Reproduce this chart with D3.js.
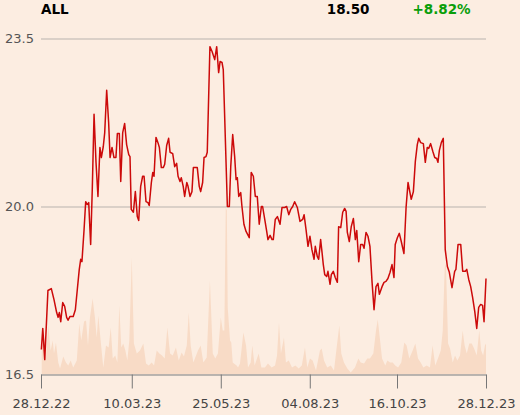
<!DOCTYPE html>
<html><head><meta charset="utf-8">
<script src="https://cdn.jsdelivr.net/npm/d3@7"></script>
<style>html,body{margin:0;padding:0;background:#fcede1;} svg{display:block;}</style>
</head><body>
<svg id="c" width="520" height="415"></svg>
<script>
const ticker = "ALL", lastPrice = "18.50", changePct = "+8.82%";
const yTicks = [16.5, 20.0, 23.5];
const xTickSessions = [0, 51, 101, 151, 200, 250];
const xTickLabels = ["28.12.22", "10.03.23", "25.05.23", "04.08.23", "16.10.23", "28.12.23"];

const priceSession = [0.2,1.0,2.1,3.9,5.8,7.3,8.8,9.6,10.3,11.1,12.2,13.3,14.4,15.2,16.3,18.1,19.3,20.4,21.5,22.3,23.0,24.2,25.1,26.0,26.8,27.9,28.8,29.8,30.9,32.0,33.1,33.9,35.0,35.8,36.9,38.0,38.8,39.9,41.0,42.1,42.9,44.0,44.8,45.9,47.0,48.1,49.3,
50.0,50.7,51.9,53.0,54.1,54.9,56.0,57.1,57.9,59.0,60.1,60.8,62.0,62.8,63.5,64.6,65.7,66.5,67.6,68.7,69.5,70.6,71.7,72.5,74.0,75.1,76.2,77.0,78.1,78.8,79.9,80.7,81.9,82.6,83.7,84.8,85.6,87.1,87.8,88.9,89.7,90.8,91.6,92.7,93.4,94.9,96.1,97.6,98.7,99.8,
100.6,101.7,102.4,104.7,105.8,106.6,107.7,108.8,109.6,110.3,111.1,112.2,112.9,114.0,115.2,117.0,118.1,119.3,120.4,121.5,122.6,123.8,124.5,125.7,126.8,127.5,128.7,129.8,130.5,131.6,132.8,134.3,135.4,136.9,138.0,139.2,140.3,141.4,142.5,144.0,145.5,147.0,147.8,148.9,150.0,
151.1,152.2,153.4,154.1,155.2,156.0,157.1,157.9,158.6,159.4,160.5,161.2,162.4,163.1,164.2,165.3,166.5,167.2,168.4,169.5,170.6,171.4,172.1,173.2,174.3,175.5,176.6,177.4,178.5,179.6,180.7,181.5,182.6,183.7,184.8,186.0,187.1,188.2,189.3,190.1,191.6,192.7,193.8,194.9,196.1,197.2,198.3,199.0,200.2,201.3,
202.4,203.9,205.1,206.2,208.0,209.2,210.3,211.4,212.2,213.3,214.8,215.9,217.0,217.8,218.9,220.1,221.2,222.3,223.0,223.8,224.9,226.0,227.1,228.3,229.4,230.9,232.4,233.1,234.3,235.8,236.9,238.4,239.2,240.3,241.4,242.5,243.7,244.8,245.9,247.0,248.1,248.9,250.0];

const priceValue = [17.02,17.46,16.81,18.25,18.29,18.06,17.79,17.69,17.79,17.60,18.00,17.92,17.69,17.63,17.71,17.71,17.85,18.27,18.69,18.90,18.85,19.52,20.10,20.04,20.08,19.21,20.35,21.92,20.92,20.21,21.23,21.02,21.25,21.54,22.42,21.75,21.02,21.23,21.02,21.02,21.52,21.52,20.52,21.54,21.73,21.29,21.08,
21.04,19.94,19.88,20.31,19.79,19.71,20.42,20.63,20.63,20.10,20.08,20.02,20.50,20.71,20.63,21.44,21.33,21.23,20.81,20.81,20.88,21.27,21.42,21.13,21.10,20.83,20.90,20.63,20.52,20.60,20.42,20.21,20.50,20.42,20.21,20.31,20.81,20.81,20.81,20.42,20.31,20.50,21.02,21.04,21.13,23.33,23.23,23.06,23.33,22.79,
23.02,23.00,22.85,20.00,20.00,20.83,21.50,21.04,20.56,20.60,20.21,20.29,20.00,19.63,19.48,19.35,20.71,20.63,20.21,20.21,19.63,20.00,20.00,19.73,19.48,19.31,19.40,19.31,19.31,19.73,19.79,19.63,19.98,19.98,20.00,19.83,19.94,20.00,20.10,19.98,19.69,19.73,19.83,19.52,19.17,
19.38,19.10,18.90,19.17,18.96,18.90,19.31,19.04,18.79,18.58,18.54,18.65,18.38,18.58,18.65,18.52,18.42,19.58,19.56,19.88,19.96,19.90,19.46,19.27,19.58,19.75,19.31,19.50,18.85,19.21,19.21,19.13,19.46,19.38,19.17,18.42,17.85,18.33,18.40,18.17,18.33,18.42,18.44,18.50,18.63,18.79,18.52,19.21,19.35,19.44,
19.27,19.02,19.98,20.50,20.15,20.31,20.94,21.29,21.42,21.33,21.31,20.92,21.23,21.21,21.31,21.15,21.02,21.00,20.92,21.17,21.33,21.42,19.10,18.75,18.63,18.31,18.65,18.69,19.21,19.21,18.65,18.65,18.69,18.48,18.33,18.10,17.81,17.46,17.90,17.96,17.94,17.60,18.50];

const volSession = [0.4,1.3,2.8,4.1,5.4,6.6,7.3,8.4,9.7,10.7,12.5,14.0,15.3,16.7,18.1,20.1,21.5,22.6,24.2,25.3,26.4,27.5,29.0,30.3,31.3,32.2,33.5,35.0,36.5,38.0,39.2,40.3,41.7,42.9,44.0,45.1,46.2,47.4,48.5,49.6,51.0,52.2,53.8,55.6,57.5,59.0,60.5,62.2,63.5,65.0,66.5,68.0,69.5,71.0,72.5,74.0,75.8,77.4,79.0,80.3,81.9,83.0,84.1,85.6,87.1,88.2,89.7,91.2,93.1,94.9,96.5,97.9,99.4,101.0,102.1,103.0,103.8,104.4,104.9,106.2,106.9,107.7,108.4,109.9,110.7,111.8,113.7,115.2,116.3,117.8,118.7,120.0,122.3,123.8,125.8,127.5,129.6,131.5,132.6,133.7,134.8,136.5,137.6,139.2,141.0,142.9,144.8,146.5,148.3,149.6,151.1,152.6,154.5,156.7,157.7,159.0,160.8,162.8,164.6,166.1,167.6,168.7,170.2,172.1,174.0,176.4,178.3,179.6,181.5,183.3,184.8,186.7,188.2,189.2,190.5,191.6,193.4,194.6,196.1,197.6,199.0,200.6,202.4,204.1,205.4,206.9,208.8,210.3,211.8,213.3,214.8,216.7,218.5,220.0,221.5,223.2,224.6,225.7,226.8,227.5,228.7,229.8,231.3,232.6,233.9,235.4,236.9,238.0,239.2,240.6,242.0,243.3,244.8,246.2,247.3,248.4,249.4,250.0];

const volValue = [220,440,170,490,240,340,210,320,120,60,180,120,90,140,70,140,510,340,530,540,290,570,760,570,370,590,340,70,290,270,470,160,190,120,690,270,310,240,140,340,1170,310,210,240,310,110,90,120,90,240,210,190,160,470,210,190,270,140,220,180,290,620,290,120,190,240,290,120,170,940,210,160,210,570,440,440,1670,1640,670,340,320,120,110,90,70,110,420,290,70,120,290,90,210,70,70,110,70,90,190,520,210,370,120,140,70,90,60,90,270,70,160,140,40,240,260,140,70,90,40,270,490,210,120,60,20,70,160,120,110,160,160,210,440,550,340,160,90,140,120,120,90,70,120,320,290,160,240,310,160,120,70,90,70,290,90,170,240,440,1070,1110,310,260,120,190,140,190,440,290,210,310,310,260,190,440,240,190,290,310];

const FONT = "DejaVu Sans";
const svg = d3.select("#c");
svg.append("rect").attr("width", 520).attr("height", 415).attr("fill", "#fcede1");

const x = d3.scaleLinear().domain([0, 250]).range([41, 486]);
const y = d3.scaleLinear().domain([16.5, 23.5]).range([374.5, 38.5]);
const yv = d3.scaleLinear().domain([0, 3360]).range([374.5, 38.5]);

const priceData = d3.range(Math.min(priceSession.length, priceValue.length)).map(i => ({s: priceSession[i], v: priceValue[i]}));
const volData = d3.range(Math.min(volSession.length, volValue.length)).map(i => ({s: volSession[i], v: volValue[i]}));

// volume area
svg.append("path").datum(volData)
  .attr("fill", "#f8dbc6")
  .attr("d", d3.area().x(d => x(d.s)).y0(yv(0)).y1(d => yv(d.v)));

// y grid + labels
const gy = svg.append("g").attr("transform", "translate(41,0)")
  .call(d3.axisLeft(y).tickValues(yTicks).tickFormat(d3.format(".1f")).tickSize(-445).tickPadding(7));
gy.select(".domain").remove();
gy.selectAll(".tick line").attr("stroke", "#b9b3ae");
gy.selectAll(".tick text").attr("fill", "#555").attr("font-size", 13).attr("font-family", FONT);

// x axis
const gx = svg.append("g").attr("transform", "translate(0,374.5)")
  .call(d3.axisBottom(x).tickValues(xTickSessions).tickFormat((d, i) => xTickLabels[i]).tickSize(14).tickPadding(10.5).tickSizeOuter(0));
gx.select(".domain").attr("stroke", "#999");
gx.selectAll(".tick line").attr("stroke", "#777");
gx.selectAll(".tick text").attr("fill", "#444").attr("font-size", 13).attr("font-family", FONT);

// price line
svg.append("path").datum(priceData)
  .attr("fill", "none").attr("stroke", "#cc0a0a").attr("stroke-width", 1.5)
  .attr("stroke-linejoin", "round")
  .attr("d", d3.line().x(d => x(d.s)).y(d => y(d.v)));

// header
const hdr = svg.append("g").attr("font-family", FONT).attr("font-weight", "bold").attr("font-size", 13.5);
hdr.append("text").attr("x", 41).attr("y", 14).attr("fill", "#000").text(ticker);
hdr.append("text").attr("x", 369.5).attr("y", 14).attr("text-anchor", "end").attr("fill", "#000").text(lastPrice);
hdr.append("text").attr("x", 412.5).attr("y", 14).attr("fill", "#0a9e0a").text(changePct);
</script>
</body></html>
